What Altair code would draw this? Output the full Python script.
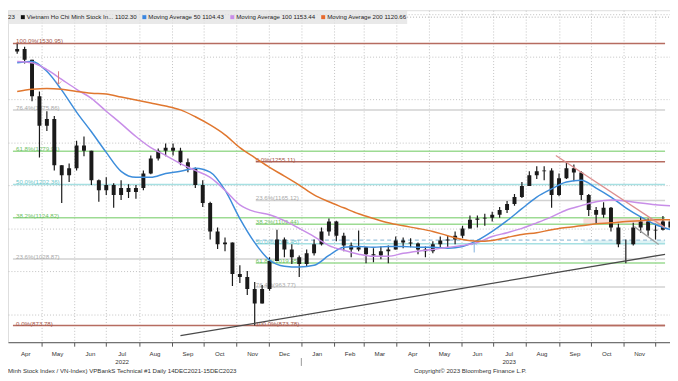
import altair as alt
import pandas as pd

W, H = 670, 336
FONT = "Liberation Sans, Arial, sans-serif"
FS = 6.2

# ---------------- visible window ----------------
x_start, x_end = "2022-04-04", "2023-12-10"
y_low, y_high = 834.9, 1608.2

# ---------------- weekly price bars (week ending Friday) ----------------
first_week = "2022-04-08"
first_open = 1512
highs = [1530, 1523, 1493, 1419, 1373, 1362, 1247, 1251, 1304, 1314,
         1281, 1214, 1219, 1205, 1212, 1203, 1201, 1235, 1270, 1286,
         1298, 1298, 1288, 1263, 1242, 1212, 1162, 1102, 1079, 1067,
         1014, 1001, 975, 968, 1033, 1097, 1079, 1063, 1037, 1051,
         1074, 1102, 1123, 1118, 1090, 1067, 1095, 1056, 1054, 1058,
         1060, 1081, 1079, 1077, 1067, 1058, 1070, 1081, 1083, 1093,
         1106, 1130, 1130, 1134, 1139, 1150, 1164, 1180, 1208, 1233,
         1245, 1245, 1240, 1228, 1254, 1249, 1233, 1180, 1150, 1161,
         1150, 1111, 1074, 1113, 1127, 1123, 1111, 1129, 1122]
lows = [1507, 1484, 1396, 1265, 1327, 1235, 1159, 1208, 1235, 1268,
        1201, 1162, 1178, 1148, 1166, 1171, 1169, 1189, 1226, 1258,
        1268, 1270, 1247, 1231, 1194, 1150, 1074, 1052, 1047, 966,
        973, 945, 874, 925, 955, 1024, 1033, 1017, 987, 1010,
        1037, 1060, 1083, 1070, 1047, 1033, 1047, 1019, 1021, 1028,
        1019, 1051, 1054, 1056, 1040, 1033, 1042, 1054, 1056, 1063,
        1077, 1100, 1102, 1106, 1116, 1125, 1136, 1153, 1171, 1199,
        1215, 1212, 1148, 1175, 1215, 1210, 1166, 1129, 1111, 1125,
        1093, 1056, 1019, 1060, 1090, 1083, 1074, 1095, 1097]
closes = [1518, 1493, 1408, 1339, 1355, 1247, 1224, 1240, 1293, 1281,
          1212, 1189, 1201, 1178, 1194, 1185, 1194, 1228, 1263, 1281,
          1288, 1281, 1254, 1240, 1201, 1159, 1093, 1063, 1067, 994,
          987, 959, 925, 959, 1024, 1074, 1051, 1033, 1017, 1042,
          1063, 1093, 1116, 1083, 1060, 1051, 1056, 1040, 1037, 1047,
          1051, 1072, 1067, 1065, 1051, 1047, 1063, 1072, 1074, 1083,
          1100, 1120, 1123, 1125, 1132, 1143, 1157, 1173, 1199, 1224,
          1233, 1235, 1178, 1217, 1240, 1230, 1178, 1143, 1132, 1148,
          1102, 1063, 1063, 1102, 1116, 1095, 1097, 1116, 1102]

# ---------------- moving averages (read every second week) ----------------
ma50 = [1486, 1489, 1466, 1422, 1371, 1325, 1277, 1233, 1219, 1219,
        1228, 1233, 1240, 1231, 1189, 1123, 1067, 1026, 1012, 1010,
        1014, 1037, 1056, 1058, 1056, 1058, 1058, 1056, 1056, 1054,
        1058, 1072, 1093, 1118, 1146, 1173, 1192, 1208, 1212, 1194,
        1173, 1148, 1127, 1109, 1097]
ma100 = [1489, 1486, 1470, 1447, 1424, 1403, 1373, 1344, 1314, 1288,
         1270, 1251, 1235, 1219, 1189, 1155, 1139, 1132, 1118, 1100,
         1081, 1060, 1049, 1040, 1035, 1035, 1042, 1047, 1051, 1056,
         1060, 1067, 1081, 1090, 1100, 1113, 1127, 1143, 1153, 1162,
         1166, 1164, 1159, 1155, 1153]
ma200 = [1419, 1424, 1426, 1424, 1419, 1415, 1413, 1406, 1399, 1392,
         1385, 1376, 1360, 1341, 1318, 1288, 1265, 1242, 1222, 1201,
         1178, 1162, 1148, 1134, 1123, 1113, 1106, 1100, 1093, 1083,
         1074, 1070, 1072, 1079, 1086, 1090, 1097, 1102, 1106, 1111,
         1113, 1116, 1118, 1120, 1120]
ma_names = ["MA50", "MA100", "MA200"]
ma_colors = ["#3d8ddb", "#c88ee8", "#e0772f"]

# ---------------- Fibonacci retracements ----------------
fib1_start = x_start
fib1_pct = ["100.0%", "76.4%", "61.8%", "50.0%", "38.2%", "23.6%", "0.0%"]
fib1_val = [1530.95, 1375.86, 1279.91, 1202.36, 1124.82, 1028.87, 873.78]
fib1_kind = ["brown", "gray", "green", "cyan", "green", "gray", "brown"]
fib2_start = "2022-11-19"
fib2_pct = ["0.0%", "23.6%", "38.2%", "50.0%", "61.8%", "76.4%", "100.0%"]
fib2_val = [1255.11, 1165.12, 1109.44, 1064.45, 1019.45, 963.77, 873.78]
fib2_kind = ["brown", "gray", "green", "cyan", "green", "gray", "brown"]
line_col = {"brown": "#b66c60", "gray": "#d2d2d2", "green": "#9ddb93", "cyan": "#a6e0e2"}
text_col = {"brown": "#a4574b", "gray": "#a9a9a9", "green": "#6fc164", "cyan": "#6cc6ca"}

# extra horizontal line and highlighted zones
dash_level = 1072.6
zone_start = "2023-09-24"
pink_zone = [1109.44, 1124.82]
cyan_zone = [1064.45, 1072.6]

# ---------------- trend lines ----------------
trend_d1 = ["2022-09-09", "2023-08-29", "2023-11-11"]
trend_d2 = ["2023-12-10", "2023-12-10", "2023-12-04"]
trend_p1 = [850.0, 1269.8, 1104.1]
trend_p2 = [1039.7, 1101.8, 1062.7]
trend_col = ["#4a4a4a", "#dc8f8f", "#a0a0a0"]

# ---------------- arrows ----------------
arrow_dates = ["2022-05-17", "2023-06-13"]
arrow_top = [1466, 1067]
arrow_bottom = [1436, 1044]
arrow_col = ["#d77a7a", "#7fb0dd"]

# ---------------- axis texts ----------------
month_labels = ["Apr", "May", "Jun", "Jul", "Aug", "Sep", "Oct", "Nov", "Dec", "Jan",
                "Feb", "Mar", "Apr", "May", "Jun", "Jul", "Aug", "Sep", "Oct", "Nov"]
month_first = "2022-04-01"
year_labels = ["2022", "2023"]
year_dates = ["2022-07-16", "2023-07-16"]
year_break = "2023-01-01"

legend_labels = ["Vietnam Ho Chi Minh Stock In... 1102.30", "Moving Average 50 1104.43",
                 "Moving Average 100 1153.44", "Moving Average 200 1120.66"]
legend_colors = ["#111111", "#3a86e0", "#c98ee8", "#e8692c"]
footer_left = "Minh Stock Index / VN-Index) VPBankS Technical #1  Daily 14DEC2021-15DEC2023"
footer_right = "Copyright\u00a9 2023 Bloomberg Finance L.P."

# ================= build tables =================
dates = pd.date_range(first_week, periods=len(closes), freq="7D").strftime("%Y-%m-%d").tolist()
opens = [first_open] + closes[:-1]
candles = pd.DataFrame(dict(date=dates, open=opens, high=highs, low=lows, close=closes))

ma_dates = dates[::2]
ma_df = pd.DataFrame({
    "date": ma_dates * 3,
    "price": ma50 + ma100 + ma200,
    "series": [ma_names[0]] * len(ma50) + [ma_names[1]] * len(ma100) + [ma_names[2]] * len(ma200),
})

fib_rows = []
for p, v, k in zip(fib1_pct, fib1_val, fib1_kind):
    fib_rows.append(dict(date=fib1_start, date2=x_end, ldate="2022-04-07", price=v,
                         lc=line_col[k], tc=text_col[k], label=f"{p}({v:.2f})"))
for p, v, k in zip(fib2_pct, fib2_val, fib2_kind):
    fib_rows.append(dict(date=fib2_start, date2=x_end, ldate=fib2_start, price=v,
                         lc=line_col[k], tc=text_col[k], label=f"{p}({v:.2f})"))
fib = pd.DataFrame(fib_rows)

zones = pd.DataFrame(dict(date=[zone_start, zone_start], date2=[x_end, x_end],
                          price=[pink_zone[0], cyan_zone[0]], price2=[pink_zone[1], cyan_zone[1]],
                          c=["#f8dede", "#dcf2f4"]))
dash_df = pd.DataFrame(dict(date=[fib2_start], date2=[x_end], price=[dash_level]))
trend = pd.DataFrame(dict(date=trend_d1, date2=trend_d2, price=trend_p1, price2=trend_p2, c=trend_col))
arrows = pd.DataFrame(dict(date=arrow_dates, top=arrow_top, bottom=arrow_bottom, c=arrow_col))

mfirst = pd.date_range(month_first, periods=len(month_labels), freq="MS")
months = pd.DataFrame(dict(date=(mfirst + pd.Timedelta(days=15)).strftime("%Y-%m-%d"), label=month_labels))
years = pd.DataFrame(dict(date=year_dates, label=year_labels))
ybreak = pd.DataFrame(dict(date=[year_break]))
one = pd.DataFrame({"v": [0]})

# ================= scales / axes =================
grid_months = pd.date_range("2022-05-01", "2023-12-01", freq="MS")
xsc = alt.Scale(type="utc", domain=[alt.DateTime(year=2022, month=4, date=4, utc=True),
                                    alt.DateTime(year=2023, month=12, date=10, utc=True)])
xax = alt.Axis(values=[alt.DateTime(year=d.year, month=d.month, date=1, utc=True) for d in grid_months],
               grid=True, gridColor="#c2c2c2", gridDash=[1, 2], labels=False, ticks=True, tickSize=4,
               tickColor="#555555", domain=True, domainColor="#555555", title=None)
ysc = alt.Scale(domain=[y_low, y_high], nice=False, zero=False)
yax = alt.Axis(values=list(range(900, 1700, 100)), grid=True, gridColor="#c2c2c2", gridDash=[1, 2],
               labels=False, ticks=False, domain=False, title=None)


def X(f="date"):
    return alt.X(f"{f}:T", scale=xsc, axis=xax)


def Y(f):
    return alt.Y(f"{f}:Q", scale=ysc, axis=yax)


layers = []
layers.append(alt.Chart(zones).mark_rect(clip=True).encode(
    x=X(), x2="date2:T", y=Y("price"), y2="price2:Q", color=alt.Color("c:N", scale=None)))
layers.append(alt.Chart(fib).mark_rule(strokeWidth=1.5, clip=True).encode(
    x=X(), x2="date2:T", y=Y("price"), color=alt.Color("lc:N", scale=None)))
layers.append(alt.Chart(dash_df).mark_rule(strokeWidth=1.2, strokeDash=[4, 3], color="#9cc2dc", clip=True).encode(
    x=X(), x2="date2:T", y=Y("price")))
layers.append(alt.Chart(fib).mark_text(align="left", baseline="bottom", dy=1, fontSize=FS, font=FONT).encode(
    x=X("ldate"), y=Y("price"), text="label:N", color=alt.Color("tc:N", scale=None)))
layers.append(alt.Chart(candles).mark_rule(color="#1a1a1a", strokeWidth=1.2, clip=True).encode(
    x=X(), y=Y("low"), y2="high:Q"))
layers.append(alt.Chart(candles).mark_bar(size=4, color="#1a1a1a", clip=True).encode(
    x=X(), y=Y("open"), y2="close:Q"))
layers.append(alt.Chart(ma_df).mark_line(interpolate="monotone", strokeWidth=1.5, clip=True).encode(
    x=X(), y=Y("price"), color=alt.Color("series:N", scale=alt.Scale(domain=ma_names, range=ma_colors), legend=None),
    detail="series:N"))
layers.append(alt.Chart(trend).mark_rule(strokeWidth=1.3, clip=True).encode(
    x=X(), x2="date2:T", y=Y("price"), y2="price2:Q", color=alt.Color("c:N", scale=None)))
layers.append(alt.Chart(arrows).mark_rule(strokeWidth=1).encode(
    x=X(), y=Y("top"), y2="bottom:Q", color=alt.Color("c:N", scale=None)))
layers.append(alt.Chart(arrows.iloc[[0]]).mark_point(shape="M-1,-1L0,0L1,-1", size=30, filled=False, strokeWidth=1).encode(
    x=X(), y=Y("bottom"), color=alt.Color("c:N", scale=None)))
layers.append(alt.Chart(arrows.iloc[[1]]).mark_point(shape="M-1,1L0,0L1,1", size=30, filled=False, strokeWidth=1).encode(
    x=X(), y=Y("top"), color=alt.Color("c:N", scale=None)))

# axis texts
layers.append(alt.Chart(months).mark_text(fontSize=FS, font=FONT, color="#333333", baseline="middle").encode(
    x=X(), y=alt.value(H + 11.5), text="label:N"))
layers.append(alt.Chart(years).mark_text(fontSize=FS, font=FONT, color="#333333", baseline="middle").encode(
    x=X(), y=alt.value(H + 20.5), text="label:N"))
layers.append(alt.Chart(ybreak).mark_rule(color="#999999").encode(
    x=X(), y=alt.value(H + 16), y2=alt.value(H + 24)))
layers.append(alt.Chart(one).mark_text(text=footer_left, fontSize=FS, font=FONT, color="#333333",
                                       align="left", baseline="middle").encode(x=alt.value(0), y=alt.value(H + 29.5)))
layers.append(alt.Chart(one).mark_text(text=footer_right, fontSize=FS, font=FONT, color="#333333",
                                       align="left", baseline="middle").encode(x=alt.value(411), y=alt.value(H + 29.5)))

# legend strip
layers.append(alt.Chart(one).mark_rect(color="#e2e2e2", opacity=0.75).encode(
    x=alt.value(0), x2=alt.value(404), y=alt.value(0), y2=alt.value(14)))
layers.append(alt.Chart(one).mark_rule(color="#b0b0b0", strokeDash=[1, 2]).encode(
    x=alt.value(404), x2=alt.value(W), y=alt.value(7)))
layers.append(alt.Chart(one).mark_text(text="23", fontSize=FS, font=FONT, color="#222222",
                                       align="left", baseline="middle").encode(x=alt.value(0), y=alt.value(7)))
sq_x = [15, 138, 227, 319]
tx_x = [19, 142, 231, 323]
for lab, col, sx, tx in zip(legend_labels, legend_colors, sq_x, tx_x):
    layers.append(alt.Chart(one).mark_square(size=16, color=col, opacity=1).encode(
        x=alt.value(sx), y=alt.value(7)))
    layers.append(alt.Chart(one).mark_text(text=lab, fontSize=FS, font=FONT, color="#222222",
                                           align="left", baseline="middle").encode(x=alt.value(tx), y=alt.value(7)))

chart = alt.layer(*layers).properties(
    width=W, height=H,
    padding={"left": 0, "top": 0, "right": 0, "bottom": 37},
    autosize=alt.AutoSizeParams(type="none"),
).configure_view(stroke=None).configure(background="white")

chart.save("out.html", embed_options={"renderer": "svg", "actions": False})
